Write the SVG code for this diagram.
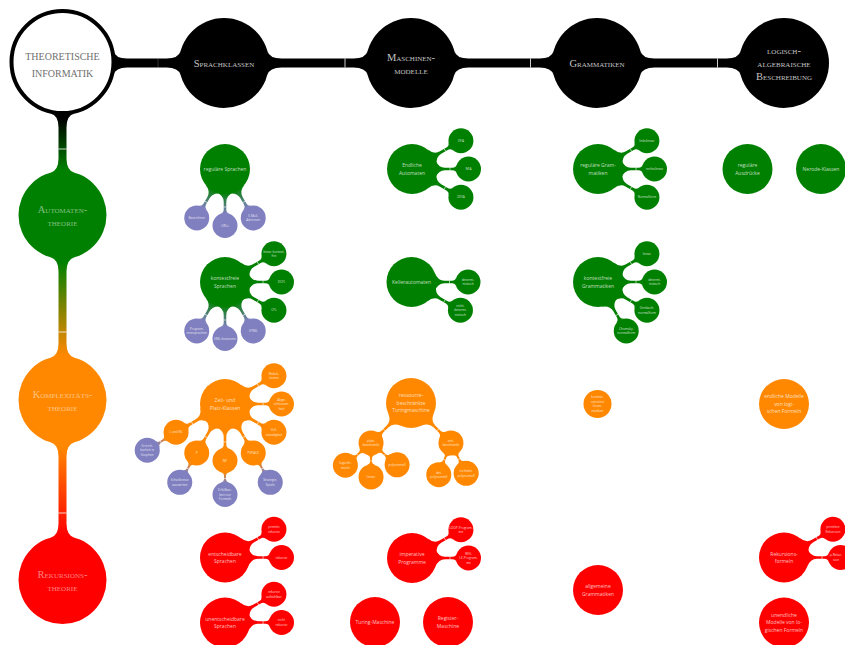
<svg xmlns="http://www.w3.org/2000/svg" width="845" height="645" viewBox="0 0 845 645">
<defs>
<style>
.hd{font-family:"Liberation Serif",serif;font-variant:small-caps;font-size:10.5px;fill:#c4c4c4;text-anchor:middle}
.mn{font-family:"Liberation Serif",serif;font-size:10px;fill:#707070;text-anchor:middle}
.lc{font-family:"Liberation Serif",serif;font-variant:small-caps;font-size:10.5px;fill:#fff;fill-opacity:.5;text-anchor:middle}
.b{font-family:"Open Sans","Liberation Sans",sans-serif;font-size:5px;fill:#fff;fill-opacity:.75;text-anchor:middle}
.s{font-family:"Open Sans","Liberation Sans",sans-serif;font-size:3.2px;fill:#fff;fill-opacity:.8;text-anchor:middle}
.g{fill:#008000}.p{fill:#8080c0}.o{fill:#ff8800}.r{fill:#ff0000}.k{fill:#000}
.tk{stroke:#fff;stroke-width:.6}
.tkb{stroke:#fff;stroke-width:.8}
</style>
<linearGradient id="gGP"><stop offset="0" stop-color="#008000"/><stop offset="1" stop-color="#8080c0"/></linearGradient>
<linearGradient id="gOP"><stop offset="0" stop-color="#ff8800"/><stop offset="1" stop-color="#8080c0"/></linearGradient>
<linearGradient id="v1" gradientUnits="userSpaceOnUse" x1="0" y1="118" x2="0" y2="170"><stop offset="0" stop-color="#000"/><stop offset="1" stop-color="#008000"/></linearGradient>
<linearGradient id="v2" gradientUnits="userSpaceOnUse" x1="0" y1="262" x2="0" y2="355"><stop offset="0" stop-color="#008000"/><stop offset="1" stop-color="#ff8800"/></linearGradient>
<linearGradient id="v3" gradientUnits="userSpaceOnUse" x1="0" y1="447" x2="0" y2="535"><stop offset="0" stop-color="#ff8800"/><stop offset="1" stop-color="#ff0000"/></linearGradient>
<g id="cL"><path d="M23.32,-9 Q26.29,-1.3 33,-1.3 L40.5,-1.3 Q43.6,-1.3 44.84,-4.5 L44.84,4.5 Q43.6,1.3 40.5,1.3 L33,1.3 Q26.29,1.3 23.32,9Z"/><line class="tk" x1="38" y1="-1.6" x2="38" y2="1.6"/></g>
<g id="cS"><path d="M11.84,-4 Q12.85,-1 15,-1 L19,-1 Q21.15,-1 22.16,-4 L22.16,4 Q21.15,1 19,1 L15,1 Q12.85,1 11.84,4Z"/><line class="tk" x1="18" y1="-1.3" x2="18" y2="1.3"/></g>
</defs>

<g id="connectors">
<path class="k" d="M113.6,51 Q115.3,58.5 127,58.5 L166.5,58.5 Q178.55,58.5 180.63,51 L180.63,75 Q178.55,67.5 166.5,67.5 L127,67.5 Q115.3,67.5 113.6,75Z"/>
<path class="k" d="M267.37,51 Q269.45,58.5 281.5,58.5 L353.5,58.5 Q365.55,58.5 367.63,51 L367.63,75 Q365.55,67.5 353.5,67.5 L281.5,67.5 Q269.45,67.5 267.37,75Z"/>
<path class="k" d="M454.37,51 Q456.45,58.5 468.5,58.5 L539.5,58.5 Q551.55,58.5 553.63,51 L553.63,75 Q551.55,67.5 539.5,67.5 L468.5,67.5 Q456.45,67.5 454.37,75Z"/>
<path class="k" d="M640.37,51 Q642.45,58.5 654.5,58.5 L726.5,58.5 Q738.55,58.5 740.63,51 L740.63,75 Q738.55,67.5 726.5,67.5 L654.5,67.5 Q642.45,67.5 640.37,75Z"/>
<line class="tkb" x1="158" y1="58.5" x2="158" y2="67.5" stroke-opacity=".25"/>
<line class="tkb" x1="345" y1="58.5" x2="345" y2="67.5"/>
<line class="tkb" x1="530.5" y1="58.5" x2="530.5" y2="67.5"/>
<line class="tkb" x1="717.5" y1="58.5" x2="717.5" y2="67.5"/>
<path fill="url(#v1)" d="M50.5,113.6 Q58.5,115.46 58.5,127.5 L58.5,158.4 Q58.5,170.4 50.5,172.67 L74.5,172.67 Q66.5,170.4 66.5,158.4 L66.5,127.5 Q66.5,115.46 74.5,113.6Z"/>
<path fill="url(#v2)" d="M50.5,257.33 Q58.5,259.6 58.5,271.6 L58.5,343.4 Q58.5,355.4 50.5,357.67 L74.5,357.67 Q66.5,355.4 66.5,343.4 L66.5,271.6 Q66.5,259.6 74.5,257.33Z"/>
<path fill="url(#v3)" d="M50.5,442.33 Q58.5,444.6 58.5,456.6 L58.5,523.4 Q58.5,535.4 50.5,537.67 L74.5,537.67 Q66.5,535.4 66.5,523.4 L66.5,456.6 Q66.5,444.6 74.5,442.33Z"/>
<line class="tkb" x1="58.5" y1="149" x2="66.5" y2="149"/>
<line class="tkb" x1="58.5" y1="332" x2="66.5" y2="332"/>
<line class="tkb" x1="58.5" y1="513" x2="66.5" y2="513"/>

<use href="#cL" fill="url(#gGP)" transform="translate(225,169) rotate(120)"/>
<use href="#cL" fill="url(#gGP)" transform="translate(225,169) rotate(90)"/>
<use href="#cL" fill="url(#gGP)" transform="translate(225,169) rotate(60)"/>
<use href="#cL" fill="#008000" transform="translate(225,282) rotate(-30)"/>
<use href="#cL" fill="#008000" transform="translate(225,282)"/>
<use href="#cL" fill="#008000" transform="translate(225,282) rotate(30)"/>
<use href="#cL" fill="url(#gGP)" transform="translate(225,282) rotate(120)"/>
<use href="#cL" fill="url(#gGP)" transform="translate(225,282) rotate(90)"/>
<use href="#cL" fill="url(#gGP)" transform="translate(225,282) rotate(60)"/>
<use href="#cL" fill="#008000" transform="translate(412,169) rotate(-30)"/>
<use href="#cL" fill="#008000" transform="translate(412,169)"/>
<use href="#cL" fill="#008000" transform="translate(412,169) rotate(30)"/>
<use href="#cL" fill="#008000" transform="translate(411.5,282)"/>
<use href="#cL" fill="#008000" transform="translate(411.5,282) rotate(30)"/>
<use href="#cL" fill="#008000" transform="translate(598,169) rotate(-30)"/>
<use href="#cL" fill="#008000" transform="translate(598,169)"/>
<use href="#cL" fill="#008000" transform="translate(598,169) rotate(30)"/>
<use href="#cL" fill="#008000" transform="translate(598,282) rotate(-30)"/>
<use href="#cL" fill="#008000" transform="translate(598,282)"/>
<use href="#cL" fill="#008000" transform="translate(598,282) rotate(30)"/>
<use href="#cL" fill="#008000" transform="translate(598,282) rotate(60)"/>
<use href="#cL" fill="#ff8800" transform="translate(225,404) rotate(-30)"/>
<use href="#cL" fill="#ff8800" transform="translate(225,404)"/>
<use href="#cL" fill="#ff8800" transform="translate(225,404) rotate(30)"/>
<use href="#cL" fill="#ff8800" transform="translate(225,404) rotate(60)"/>
<use href="#cL" fill="#ff8800" transform="translate(225,404) rotate(90)"/>
<use href="#cL" fill="#ff8800" transform="translate(225,404) rotate(120)"/>
<use href="#cL" fill="#ff8800" transform="translate(225,404) rotate(150)"/>
<use href="#cS" fill="url(#gOP)" transform="translate(176.07,432.25) rotate(148)"/>
<use href="#cS" fill="url(#gOP)" transform="translate(196.75,452.93) rotate(120)"/>
<use href="#cS" fill="url(#gOP)" transform="translate(225,460.5) rotate(90)"/>
<use href="#cS" fill="url(#gOP)" transform="translate(253.25,452.93) rotate(60)"/>
<use href="#cL" fill="#ff8800" transform="translate(411,403) rotate(135)"/>
<use href="#cL" fill="#ff8800" transform="translate(411,403) rotate(45)"/>
<use href="#cS" fill="#ff8800" transform="translate(371.05,442.95) rotate(139)"/>
<use href="#cS" fill="#ff8800" transform="translate(371.05,442.95) rotate(90)"/>
<use href="#cS" fill="#ff8800" transform="translate(371.05,442.95) rotate(40)"/>
<use href="#cS" fill="#ff8800" transform="translate(450.95,442.95) rotate(111)"/>
<use href="#cS" fill="#ff8800" transform="translate(450.95,442.95) rotate(63.4)"/>
<use href="#cL" fill="#ff0000" transform="translate(225,557.5) rotate(-30)"/>
<use href="#cL" fill="#ff0000" transform="translate(225,557.5)"/>
<use href="#cL" fill="#ff0000" transform="translate(225,622.5) rotate(-30)"/>
<use href="#cL" fill="#ff0000" transform="translate(225,622.5)"/>
<use href="#cL" fill="#ff0000" transform="translate(412,558) rotate(-30)"/>
<use href="#cL" fill="#ff0000" transform="translate(412,558)"/>
<use href="#cL" fill="#ff0000" transform="translate(784,557.5) rotate(-30)"/>
<use href="#cL" fill="#ff0000" transform="translate(784,557.5)"/>
</g>

<g id="n-ti"><circle cx="62.5" cy="62" r="51" fill="#fff" stroke="#000" stroke-width="4"/><text class="mn" x="62.5" y="59.5">THEORETISCHE<tspan x="62.5" dy="17">INFORMATIK</tspan></text></g>
<g id="n-sk"><circle class="k" cx="224" cy="63" r="45"/><text class="hd" x="224" y="66.5">Sprachklassen</text></g>
<g id="n-mm"><circle class="k" cx="411" cy="63" r="45"/><text class="hd" x="411" y="60.5">Maschinen-<tspan x="411" dy="13">modelle</tspan></text></g>
<g id="n-gr"><circle class="k" cx="597" cy="63" r="45"/><text class="hd" x="597" y="66.5">Grammatiken</text></g>
<g id="n-lab"><circle class="k" cx="784" cy="63" r="45"/><text class="hd" x="784" y="53.5">logisch-<tspan x="784" dy="13">algebraische</tspan><tspan x="784" dy="13">Beschreibung</tspan></text></g>

<g id="n-at"><circle class="g" cx="62.5" cy="215" r="44"/><text class="lc" x="62.5" y="212.5">Automaten-<tspan x="62.5" dy="13">theorie</tspan></text></g>
<g id="n-kt"><circle class="o" cx="62.5" cy="400" r="44"/><text class="lc" x="62.5" y="397.5">Komplexitäts-<tspan x="62.5" dy="13">theorie</tspan></text></g>
<g id="n-rt"><circle class="r" cx="62.5" cy="580" r="44"/><text class="lc" x="62.5" y="577.5">Rekursions-<tspan x="62.5" dy="13">theorie</tspan></text></g>

<g id="n-rsp"><circle class="g" cx="225" cy="169" r="25"/><text class="b" x="225" y="170.75">reguläre Sprachen</text></g>
<g id="n-bez"><circle class="p" cx="196.75" cy="217.93" r="12.5"/><text class="s" x="196.75" y="219.03">Bezeichner</text></g>
<g id="n-url"><circle class="p" cx="225" cy="225.5" r="12.5"/><text class="s" x="225" y="226.6">URLs</text></g>
<g id="n-mail"><circle class="p" cx="253.25" cy="217.93" r="12.5"/><text class="s" x="253.25" y="216.78">E-Mail-<tspan x="253.25" dy="4.5">Adressen</tspan></text></g>

<g id="n-ksp"><circle class="g" cx="225" cy="282" r="25"/><text class="b" x="225" y="280">kontextfreie<tspan x="225" dy="7.5">Sprachen</tspan></text></g>
<g id="n-lkf"><circle class="g" cx="273.93" cy="253.75" r="12.5"/><text class="s" x="273.93" y="252.6">linear kontext-<tspan x="273.93" dy="4.5">frei</tspan></text></g>
<g id="n-dcfl"><circle class="g" cx="281.5" cy="282" r="12.5"/><text class="s" x="281.5" y="283.1">DCFL</text></g>
<g id="n-cfl"><circle class="g" cx="273.93" cy="310.25" r="12.5"/><text class="s" x="273.93" y="311.35">CFL</text></g>
<g id="n-prog"><circle class="p" cx="196.75" cy="330.93" r="12.5"/><text class="s" x="196.75" y="329.78">Program-<tspan x="196.75" dy="4.5">miersprachen</tspan></text></g>
<g id="n-xml"><circle class="p" cx="225" cy="338.5" r="12.5"/><text class="s" x="225" y="339.6">XML-Instanzen</text></g>
<g id="n-html"><circle class="p" cx="253.25" cy="330.93" r="12.5"/><text class="s" x="253.25" y="332.03">HTML</text></g>

<g id="n-ea"><circle class="g" cx="412" cy="169" r="25"/><text class="b" x="412" y="167">Endliche<tspan x="412" dy="7.5">Automaten</tspan></text></g>
<g id="n-dfa"><circle class="g" cx="460.93" cy="140.75" r="12.5"/><text class="s" x="460.93" y="141.85">DFA</text></g>
<g id="n-nfa"><circle class="g" cx="468.5" cy="169" r="12.5"/><text class="s" x="468.5" y="170.1">NFA</text></g>
<g id="n-2dfa"><circle class="g" cx="460.93" cy="197.25" r="12.5"/><text class="s" x="460.93" y="198.35">2DFA</text></g>

<g id="n-ka"><circle class="g" cx="411.5" cy="282" r="25"/><text class="b" x="411.5" y="283.75">Kellerautomaten</text></g>
<g id="n-kadet"><circle class="g" cx="468" cy="282" r="12.5"/><text class="s" x="468" y="280.85">determi-<tspan x="468" dy="4.5">nistisch</tspan></text></g>
<g id="n-kandet"><circle class="g" cx="460.43" cy="310.25" r="12.5"/><text class="s" x="460.43" y="306.85">nicht-<tspan x="460.43" dy="4.5">determi-</tspan><tspan x="460.43" dy="4.5">nistisch</tspan></text></g>

<g id="n-rg"><circle class="g" cx="598" cy="169" r="25"/><text class="b" x="598" y="167">reguläre Gram-<tspan x="598" dy="7.5">matiken</tspan></text></g>
<g id="n-ll"><circle class="g" cx="646.93" cy="140.75" r="12.5"/><text class="s" x="646.93" y="141.85">linkslinear</text></g>
<g id="n-rl"><circle class="g" cx="654.5" cy="169" r="12.5"/><text class="s" x="654.5" y="170.1">rechtslinear</text></g>
<g id="n-nf"><circle class="g" cx="646.93" cy="197.25" r="12.5"/><text class="s" x="646.93" y="198.35">Normalform</text></g>

<g id="n-kg"><circle class="g" cx="598" cy="282" r="25"/><text class="b" x="598" y="280">kontextfreie<tspan x="598" dy="7.5">Grammatiken</tspan></text></g>
<g id="n-kglin"><circle class="g" cx="646.93" cy="253.75" r="12.5"/><text class="s" x="646.93" y="254.85">linear</text></g>
<g id="n-kgdet"><circle class="g" cx="654.5" cy="282" r="12.5"/><text class="s" x="654.5" y="280.85">determi-<tspan x="654.5" dy="4.5">nistisch</tspan></text></g>
<g id="n-gnf"><circle class="g" cx="646.93" cy="310.25" r="12.5"/><text class="s" x="646.93" y="309.1">Greibach-<tspan x="646.93" dy="4.5">normalform</tspan></text></g>
<g id="n-cnf"><circle class="g" cx="626.25" cy="330.93" r="12.5"/><text class="s" x="626.25" y="329.78">Chomsky-<tspan x="626.25" dy="4.5">normalform</tspan></text></g>

<g id="n-ra"><circle class="g" cx="747.5" cy="169" r="25"/><text class="b" x="747.5" y="167">reguläre<tspan x="747.5" dy="7.5">Ausdrücke</tspan></text></g>
<g id="n-nk"><circle class="g" cx="821" cy="169" r="25"/><text class="b" x="821" y="170.75">Nerode-Klassen</text></g>

<g id="n-zpk"><circle class="o" cx="225" cy="404" r="25"/><text class="b" x="225" y="402">Zeit- und<tspan x="225" dy="7.5">Platz-Klassen</tspan></text></g>
<g id="n-red"><circle class="o" cx="273.93" cy="375.75" r="12.5"/><text class="s" x="273.93" y="374.6">Reduk-<tspan x="273.93" dy="4.5">tionen</tspan></text></g>
<g id="n-abg"><circle class="o" cx="281.5" cy="404" r="12.5"/><text class="s" x="281.5" y="400.6">Abge-<tspan x="281.5" dy="4.5">schlossen-</tspan><tspan x="281.5" dy="4.5">heit</tspan></text></g>
<g id="n-voll"><circle class="o" cx="273.93" cy="432.25" r="12.5"/><text class="s" x="273.93" y="431.1">Voll-<tspan x="273.93" dy="4.5">ständigkeit</tspan></text></g>
<g id="n-pspace"><circle class="o" cx="253.25" cy="452.93" r="12.5"/><text class="s" x="253.25" y="454.03">PSPACE</text></g>
<g id="n-np"><circle class="o" cx="225" cy="460.5" r="12.5"/><text class="s" x="225" y="461.6">NP</text></g>
<g id="n-p"><circle class="o" cx="196.75" cy="452.93" r="12.5"/><text class="s" x="196.75" y="454.03">P</text></g>
<g id="n-lnl"><circle class="o" cx="176.07" cy="432.25" r="12.5"/><text class="s" x="176.07" y="433.35">L und NL</text></g>
<g id="n-err"><circle class="p" cx="147.24" cy="450.27" r="12.5"/><text class="s" x="147.24" y="446.87">Erreich-<tspan x="147.24" dy="4.5">barkeit in</tspan><tspan x="147.24" dy="4.5">Graphen</tspan></text></g>
<g id="n-sch"><circle class="p" cx="179.75" cy="482.37" r="12.5"/><text class="s" x="179.75" y="481.22">Schaltkreise<tspan x="179.75" dy="4.5">auswerten</tspan></text></g>
<g id="n-erf"><circle class="p" cx="225" cy="494.5" r="12.5"/><text class="s" x="225" y="491.1">Erfüllbar-<tspan x="225" dy="4.5">keit von</tspan><tspan x="225" dy="4.5">Formeln</tspan></text></g>
<g id="n-str"><circle class="p" cx="270.25" cy="482.37" r="12.5"/><text class="s" x="270.25" y="481.22">Strategie-<tspan x="270.25" dy="4.5">Spiele</tspan></text></g>

<g id="n-rtm"><circle class="o" cx="411" cy="403" r="25"/><text class="b" x="411" y="397.25">ressource-<tspan x="411" dy="7.5">beschränkte</tspan><tspan x="411" dy="7.5">Turingmaschine</tspan></text></g>
<g id="n-platz"><circle class="o" cx="371.05" cy="442.95" r="12.5"/><text class="s" x="371.05" y="441.8">platz-<tspan x="371.05" dy="4.5">beschränkt</tspan></text></g>
<g id="n-zeit"><circle class="o" cx="450.95" cy="442.95" r="12.5"/><text class="s" x="450.95" y="441.8">zeit-<tspan x="450.95" dy="4.5">beschränkt</tspan></text></g>
<g id="n-log"><circle class="o" cx="345.39" cy="465.26" r="12.5"/><text class="s" x="345.39" y="464.11">logarith-<tspan x="345.39" dy="4.5">misch</tspan></text></g>
<g id="n-lin"><circle class="o" cx="371.05" cy="476.95" r="12.5"/><text class="s" x="371.05" y="478.05">linear</text></g>
<g id="n-poly"><circle class="o" cx="397.1" cy="464.8" r="12.5"/><text class="s" x="397.1" y="465.9">polynomiell</text></g>
<g id="n-detp"><circle class="o" cx="438.77" cy="474.69" r="12.5"/><text class="s" x="438.77" y="473.54">det.<tspan x="438.77" dy="4.5">polynomiell</tspan></text></g>
<g id="n-ndetp"><circle class="o" cx="466.17" cy="473.35" r="12.5"/><text class="s" x="466.17" y="472.2">nichtdet.<tspan x="466.17" dy="4.5">polynomiell</tspan></text></g>

<g id="n-ksg"><circle class="o" cx="597.5" cy="404" r="14"/><text class="s" x="597.5" y="398.35">kontext-<tspan x="597.5" dy="4.5">sensitive</tspan><tspan x="597.5" dy="4.5">Gram-</tspan><tspan x="597.5" dy="4.5">matiken</tspan></text></g>
<g id="n-emlf"><circle class="o" cx="784" cy="404" r="25"/><text class="b" x="784" y="398.25">endliche Modelle<tspan x="784" dy="7.5">von logi-</tspan><tspan x="784" dy="7.5">schen Formeln</tspan></text></g>

<g id="n-es"><circle class="r" cx="225" cy="557.5" r="25"/><text class="b" x="225" y="555.5">entscheidbare<tspan x="225" dy="7.5">Sprachen</tspan></text></g>
<g id="n-primr"><circle class="r" cx="273.93" cy="529.25" r="12.5"/><text class="s" x="273.93" y="528.1">primitiv<tspan x="273.93" dy="4.5">rekursiv</tspan></text></g>
<g id="n-rek"><circle class="r" cx="281.5" cy="557.5" r="12.5"/><text class="s" x="281.5" y="558.6">rekursiv</text></g>
<g id="n-us"><circle class="r" cx="225" cy="622.5" r="25"/><text class="b" x="225" y="620.5">unentscheidbare<tspan x="225" dy="7.5">Sprachen</tspan></text></g>
<g id="n-rekaufz"><circle class="r" cx="273.93" cy="594.25" r="12.5"/><text class="s" x="273.93" y="593.1">rekursiv<tspan x="273.93" dy="4.5">aufzählbar</tspan></text></g>
<g id="n-nrek"><circle class="r" cx="281.5" cy="622.5" r="12.5"/><text class="s" x="281.5" y="621.35">nicht<tspan x="281.5" dy="4.5">rekursiv</tspan></text></g>

<g id="n-imp"><circle class="r" cx="412" cy="558" r="25"/><text class="b" x="412" y="556">imperative<tspan x="412" dy="7.5">Programme</tspan></text></g>
<g id="n-loop"><circle class="r" cx="460.93" cy="529.75" r="12.5"/><text class="s" x="460.93" y="528.6">LOOP-Program-<tspan x="460.93" dy="4.5">me</tspan></text></g>
<g id="n-while"><circle class="r" cx="468.5" cy="558" r="12.5"/><text class="s" x="468.5" y="554.6">WHI-<tspan x="468.5" dy="4.5">LE-Program-</tspan><tspan x="468.5" dy="4.5">me</tspan></text></g>
<g id="n-tm"><circle class="r" cx="375" cy="622" r="25"/><text class="b" x="375" y="623.75">Turing-Maschine</text></g>
<g id="n-regm"><circle class="r" cx="448" cy="622" r="25"/><text class="b" x="448" y="620">Register-<tspan x="448" dy="7.5">Maschine</tspan></text></g>

<g id="n-ag"><circle class="r" cx="598" cy="590" r="25"/><text class="b" x="598" y="588">allgemeine<tspan x="598" dy="7.5">Grammatiken</tspan></text></g>

<g id="n-rf"><circle class="r" cx="784" cy="557.5" r="25"/><text class="b" x="784" y="555.5">Rekursions-<tspan x="784" dy="7.5">formeln</tspan></text></g>
<g id="n-primrek"><circle class="r" cx="832.93" cy="529.25" r="12.5"/><text class="s" x="832.93" y="528.1">primitive<tspan x="832.93" dy="4.5">Rekursion</tspan></text></g>
<g id="n-murek"><circle class="r" cx="840.5" cy="557.5" r="12.5"/><text class="s" x="836" y="556.35">µ-Rekur-<tspan x="836" dy="4.5">sion</tspan></text></g>
<g id="n-umlf"><circle class="r" cx="784" cy="622.5" r="25"/><text class="b" x="784" y="616.75">unendliche<tspan x="784" dy="7.5">Modelle von lo-</tspan><tspan x="784" dy="7.5">gischen Formeln</tspan></text></g>
</svg>
